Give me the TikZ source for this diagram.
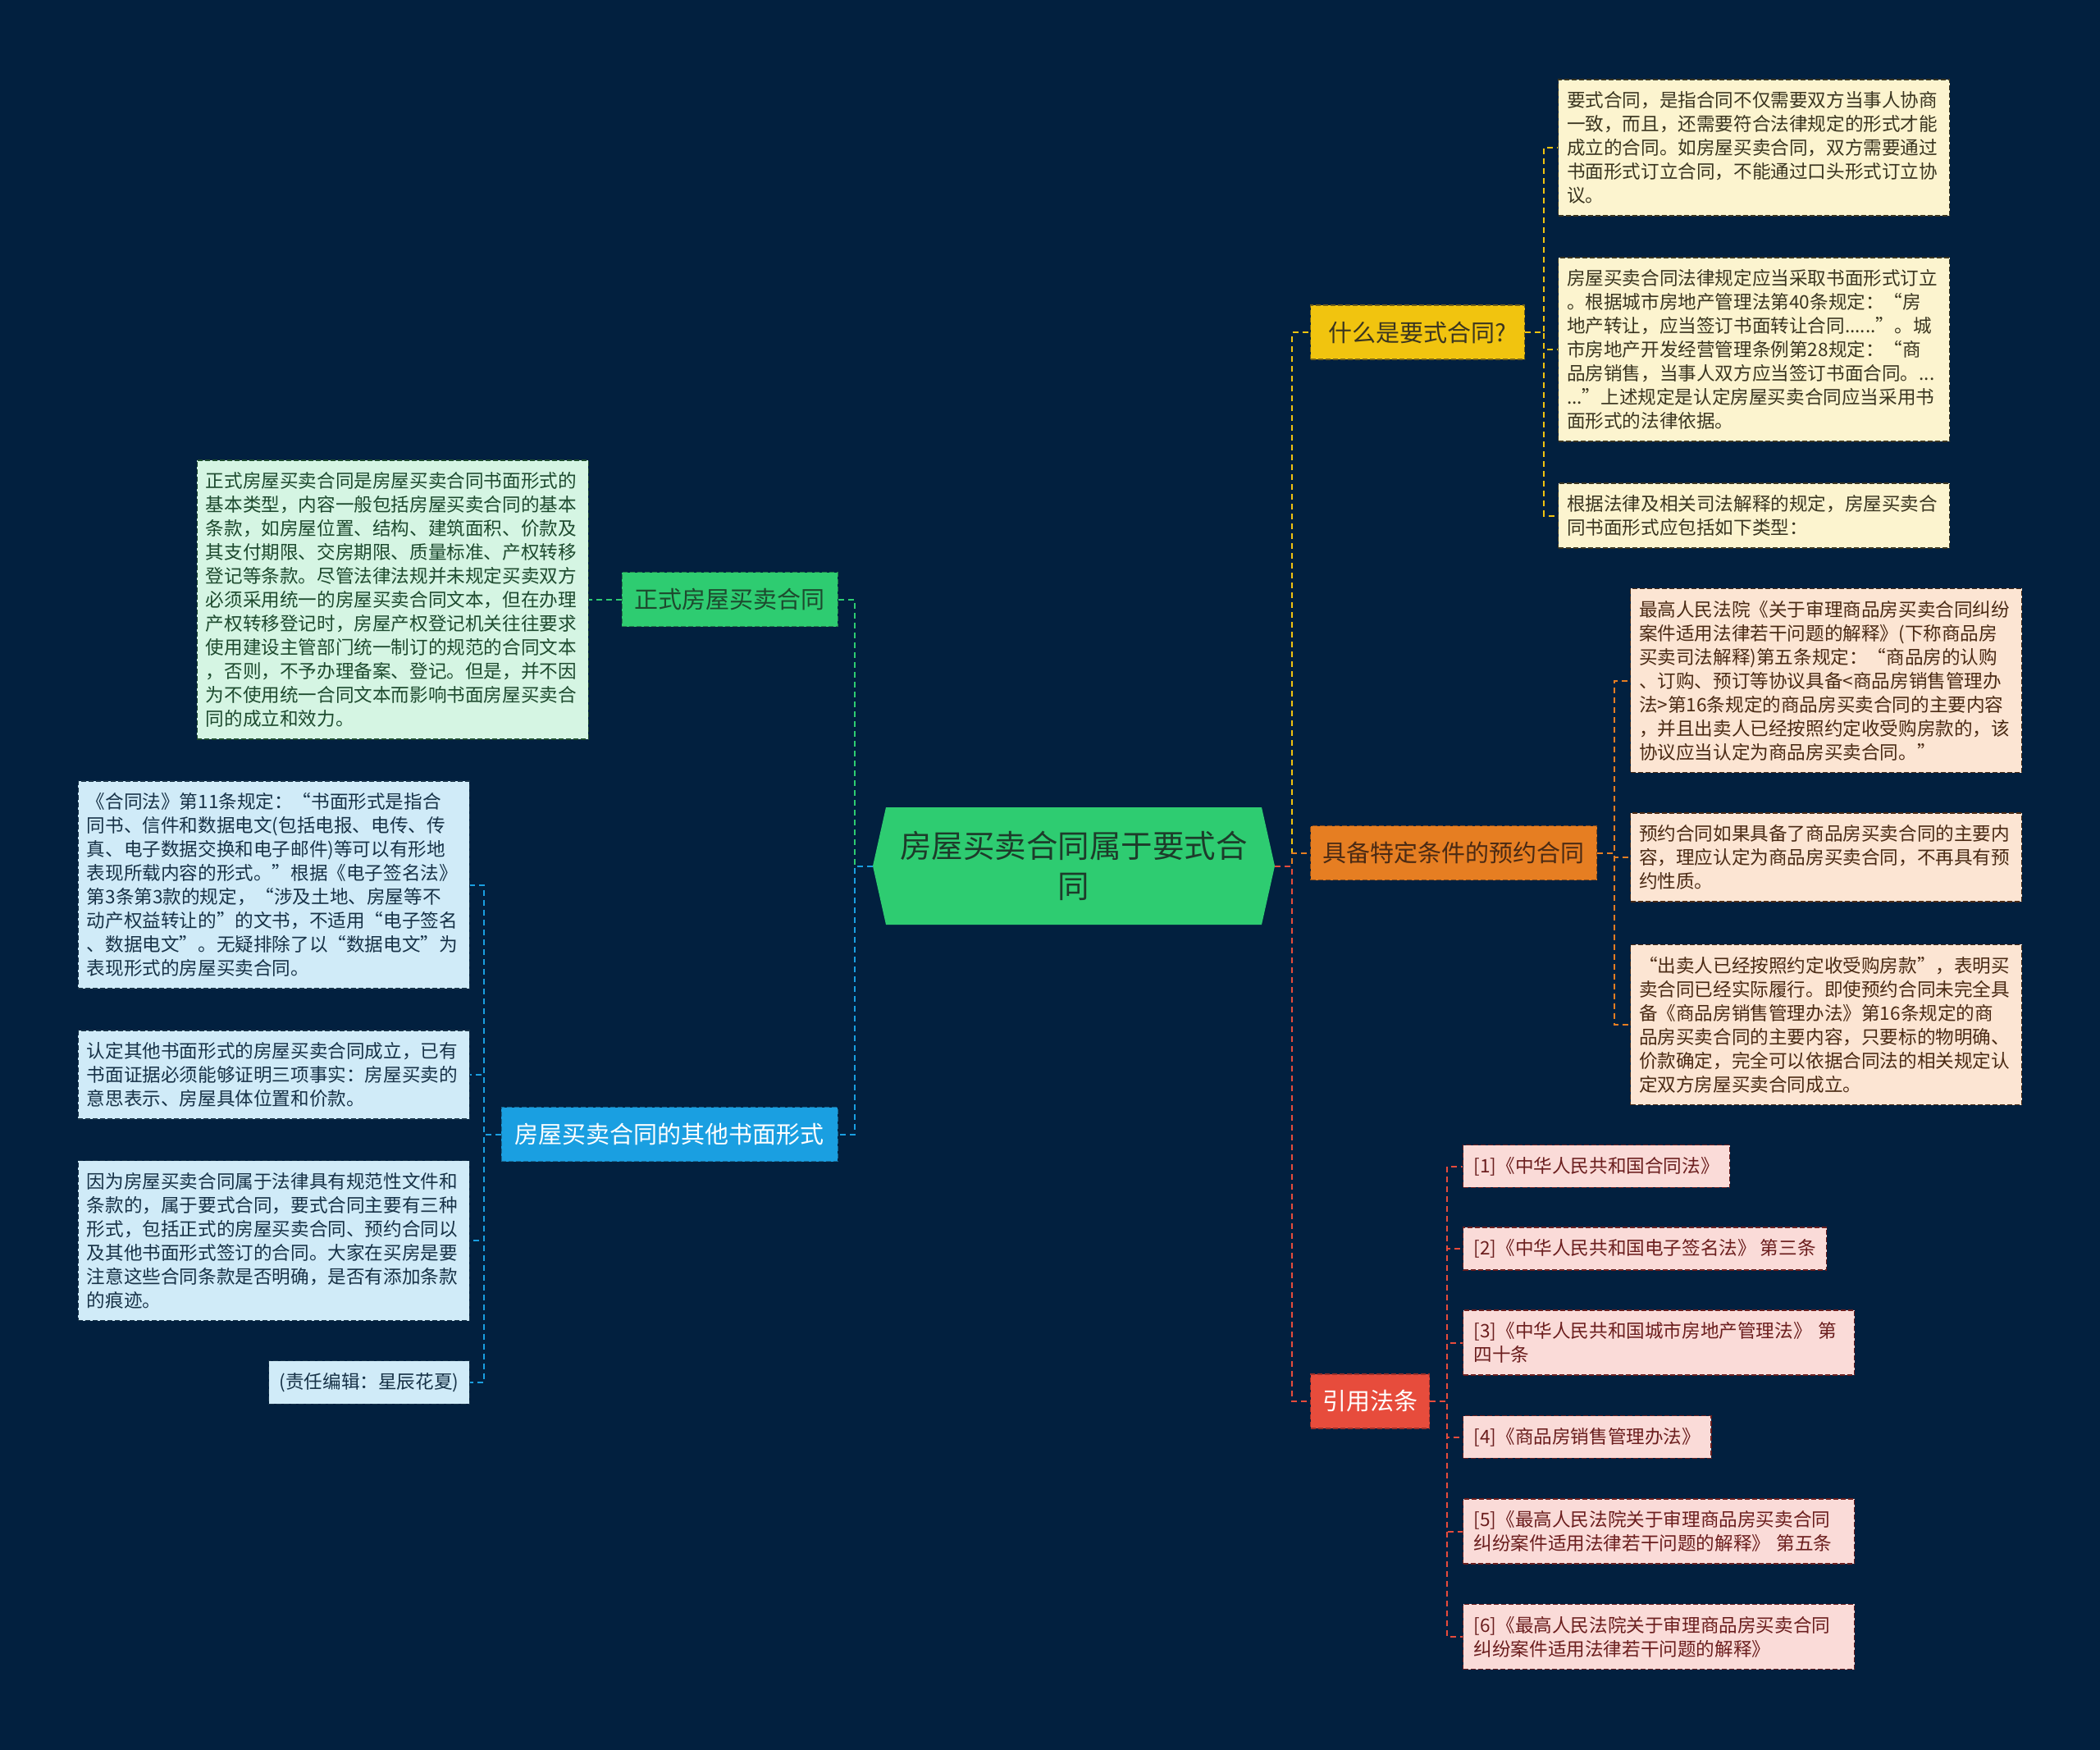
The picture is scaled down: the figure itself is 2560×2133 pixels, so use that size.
\documentclass[tikz,border=0pt]{standalone}
\usepackage{fontspec}
\setmainfont{Noto Sans CJK SC}

\definecolor{bgnavy}{HTML}{02203F}
\definecolor{cgreen}{HTML}{2ECC71}
\definecolor{ctext}{HTML}{1D3B2A}
\definecolor{cyellow}{HTML}{F1C40F}
\definecolor{corange}{HTML}{E67E22}
\definecolor{cred}{HTML}{E74C3C}
\definecolor{cblue}{HTML}{1A9FE1}
\definecolor{yfill}{HTML}{FCF4CF}
\definecolor{ytext}{HTML}{3A3520}
\definecolor{ofill}{HTML}{FCE5D3}
\definecolor{otext}{HTML}{4A2A14}
\definecolor{rfill}{HTML}{FADBD8}
\definecolor{rtext}{HTML}{6B1E1E}
\definecolor{gfill}{HTML}{D5F5E3}
\definecolor{gtext}{HTML}{1D4A2E}
\definecolor{bfill}{HTML}{D0EBF8}
\definecolor{btext}{HTML}{173247}

\tikzset{
  leaf/.style={draw, line width=1.2pt, dash pattern=on 6pt off 3pt,
    inner xsep=10.5pt, inner ysep=14.5pt, align=left,
    font=\fontsize{22.6pt}{29pt}\selectfont},
  wide/.style={text width=456pt},
  yleaf/.style={leaf, wide, fill=yfill, draw=ytext, text=ytext, anchor=west},
  oleaf/.style={leaf, wide, fill=ofill, draw=otext, text=otext, anchor=west},
  rleaf/.style={leaf, inner xsep=13pt, fill=rfill, draw=rtext, text=rtext, anchor=west},
  gleaf/.style={leaf, wide, fill=gfill, draw=gtext, text=gtext, anchor=east},
  bleaf/.style={leaf, wide, fill=bfill, draw=btext, text=btext, anchor=east},
  branch/.style={minimum height=66pt, inner xsep=10pt, line width=1.2pt,
    dash pattern=on 6pt off 3pt, font=\fontsize{29pt}{34pt}\selectfont},
  link/.style={line width=2pt, dash pattern=on 7pt off 5pt},
}

\begin{document}
\begin{tikzpicture}[x=1pt, y=-1pt]
  % Background
  \fill[bgnavy] (0,0) rectangle (2560,2133);

  % Center
  \node[minimum width=490pt, minimum height=143pt, inner sep=0pt, align=center,
    fill=bgnavy, text=ctext, font=\fontsize{38.5pt}{49pt}\selectfont,
    path picture={\fill[cgreen] (path picture bounding box.west)
      -- ([xshift=16pt]path picture bounding box.north west)
      -- ([xshift=-16pt]path picture bounding box.north east)
      -- (path picture bounding box.east)
      -- ([xshift=-16pt]path picture bounding box.south east)
      -- ([xshift=16pt]path picture bounding box.south west) -- cycle;}]
    (ctr) at (1309,1055.5) {房屋买卖合同属于要式合\\同};

  % Branches
  \node[branch, anchor=west, minimum width=261pt, fill=cyellow, draw=ytext!70!cyellow, text=ytext] (whatis) at (1597,405) {什么是要式合同?};
  \node[branch, anchor=west, minimum width=349pt, fill=corange, draw=otext!60!corange, text=otext] (prec) at (1597,1039.5) {具备特定条件的预约合同};
  \node[branch, anchor=west, minimum width=145pt, fill=cred, draw=rtext!60!cred, text=white] (laws) at (1597,1708) {引用法条};
  \node[branch, anchor=east, minimum width=263pt, fill=cgreen, draw=gtext!60!cgreen, text=gtext] (formal) at (1022,730.5) {正式房屋买卖合同};
  \node[branch, anchor=east, minimum width=410pt, fill=cblue, draw=btext!50!cblue, text=white] (other) at (1022,1382.5) {房屋买卖合同的其他书面形式};

  % Yellow leaves
  \node[yleaf] (y1) at (1899,180) {要式合同，是指合同不仅需要双方当事人协商\\一致，而且，还需要符合法律规定的形式才能\\成立的合同。如房屋买卖合同，双方需要通过\\书面形式订立合同，不能通过口头形式订立协\\议。};
  \node[yleaf] (y2) at (1899,426) {房屋买卖合同法律规定应当采取书面形式订立\\。根据城市房地产管理法第40条规定：“房\\地产转让，应当签订书面转让合同......”。城\\市房地产开发经营管理条例第28规定：“商\\品房销售，当事人双方应当签订书面合同。...\\...”上述规定是认定房屋买卖合同应当采用书\\面形式的法律依据。};
  \node[yleaf] (y3) at (1899,628.5) {根据法律及相关司法解释的规定，房屋买卖合\\同书面形式应包括如下类型：};

  % Orange leaves
  \node[oleaf] (o1) at (1987,829.5) {最高人民法院《关于审理商品房买卖合同纠纷\\案件适用法律若干问题的解释》(下称商品房\\买卖司法解释)第五条规定：“商品房的认购\\、订购、预订等协议具备<商品房销售管理办\\法>第16条规定的商品房买卖合同的主要内容\\，并且出卖人已经按照约定收受购房款的，该\\协议应当认定为商品房买卖合同。”};
  \node[oleaf] (o2) at (1987,1045) {预约合同如果具备了商品房买卖合同的主要内\\容，理应认定为商品房买卖合同，不再具有预\\约性质。};
  \node[oleaf] (o3) at (1987,1249) {“出卖人已经按照约定收受购房款”，表明买\\卖合同已经实际履行。即使预约合同未完全具\\备《商品房销售管理办法》第16条规定的商\\品房买卖合同的主要内容，只要标的物明确、\\价款确定，完全可以依据合同法的相关规定认\\定双方房屋买卖合同成立。};

  % Red leaves
  \node[rleaf] (r1) at (1783,1421.5) {[1]《中华人民共和国合同法》};
  \node[rleaf] (r2) at (1783,1522) {[2]《中华人民共和国电子签名法》 第三条};
  \node[rleaf, text width=451pt] (r3) at (1783,1636.5) {[3]《中华人民共和国城市房地产管理法》 第\\四十条};
  \node[rleaf] (r4) at (1783,1751.5) {[4]《商品房销售管理办法》};
  \node[rleaf, text width=451pt] (r5) at (1783,1866.5) {[5]《最高人民法院关于审理商品房买卖合同\\纠纷案件适用法律若干问题的解释》 第五条};
  \node[rleaf, text width=451pt] (r6) at (1783,1995) {[6]《最高人民法院关于审理商品房买卖合同\\纠纷案件适用法律若干问题的解释》};

  % Green leaf
  \node[gleaf] (g1) at (718,731) {正式房屋买卖合同是房屋买卖合同书面形式的\\基本类型，内容一般包括房屋买卖合同的基本\\条款，如房屋位置、结构、建筑面积、价款及\\其支付期限、交房期限、质量标准、产权转移\\登记等条款。尽管法律法规并未规定买卖双方\\必须采用统一的房屋买卖合同文本，但在办理\\产权转移登记时，房屋产权登记机关往往要求\\使用建设主管部门统一制订的规范的合同文本\\，否则，不予办理备案、登记。但是，并不因\\为不使用统一合同文本而影响书面房屋买卖合\\同的成立和效力。};

  % Blue leaves
  \node[bleaf] (b1) at (573,1078.5) {《合同法》第11条规定：“书面形式是指合\\同书、信件和数据电文(包括电报、电传、传\\真、电子数据交换和电子邮件)等可以有形地\\表现所载内容的形式。”根据《电子签名法》\\第3条第3款的规定，“涉及土地、房屋等不\\动产权益转让的”的文书，不适用“电子签名\\、数据电文”。无疑排除了以“数据电文”为\\表现形式的房屋买卖合同。};
  \node[bleaf] (b2) at (573,1310) {认定其他书面形式的房屋买卖合同成立，已有\\书面证据必须能够证明三项事实：房屋买卖的\\意思表示、房屋具体位置和价款。};
  \node[bleaf] (b3) at (573,1512) {因为房屋买卖合同属于法律具有规范性文件和\\条款的，属于要式合同，要式合同主要有三种\\形式，包括正式的房屋买卖合同、预约合同以\\及其他书面形式签订的合同。大家在买房是要\\注意这些合同条款是否明确，是否有添加条款\\的痕迹。};
  \node[leaf, fill=bfill, draw=btext, text=btext, anchor=east, inner xsep=13pt] (b4) at (573,1685) {(责任编辑：星辰花夏)};

  % Connections from center
  \draw[link, cyellow] (ctr.east) -- ++(21,0) |- (whatis.west);
  \draw[link, corange] (ctr.east) -- ++(21,0) |- (prec.west);
  \draw[link, cred] (ctr.east) -- ++(21,0) |- (laws.west);
  \draw[link, cgreen] (ctr.west) -- ++(-22,0) |- (formal.east);
  \draw[link, cblue] (ctr.west) -- ++(-22,0) |- (other.east);

  % Connections to leaves
  \foreach \n in {y1,y2,y3} \draw[link, cyellow] (whatis.east) -- ++(23,0) |- (\n.west);
  \foreach \n in {o1,o2,o3} \draw[link, corange] (prec.east) -- ++(21,0) |- (\n.west);
  \foreach \n in {r1,r2,r3,r4,r5,r6} \draw[link, cred] (laws.east) -- ++(21,0) |- (\n.west);
  \draw[link, cgreen] (formal.west) -- ++(-20,0) |- (g1.east);
  \foreach \n in {b1,b2,b3,b4} \draw[link, cblue] (other.west) -- ++(-21,0) |- (\n.east);
\end{tikzpicture}
\end{document}
